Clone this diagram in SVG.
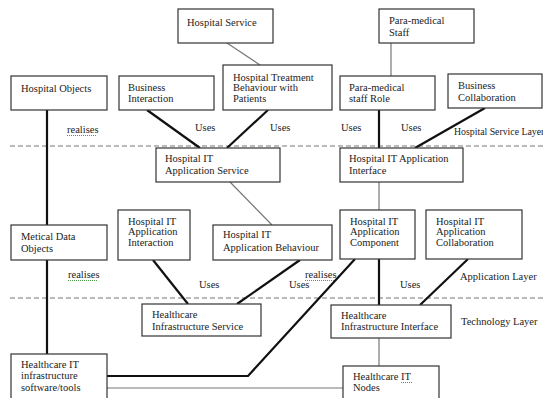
<svg xmlns="http://www.w3.org/2000/svg" width="543" height="398" viewBox="0 0 543 398">
<style>
text{font-family:"Liberation Serif","Times New Roman",serif;font-size:10.5px;fill:#222}
.box{fill:#fff;stroke:#333;stroke-width:1.2}
.thick{stroke:#111;stroke-width:2.2;fill:none}
.thin{stroke:#777;stroke-width:1.2;fill:none}
.dash{stroke:#777;stroke-width:1.2;stroke-dasharray:5,3;fill:none}
.sq{stroke:#4a9a4a;stroke-width:1;stroke-dasharray:1,1;fill:none}
</style>
<rect width="543" height="398" fill="#fff"/>
<g id="layers">
<line class="dash" x1="10" y1="146" x2="543" y2="146"/>
<line class="dash" x1="10" y1="298" x2="543" y2="298"/>
<text x="454" y="135" style="font-size:9.8px">Hospital Service Layer</text>
<text x="460" y="280">Application Layer</text>
<text x="461" y="324.5">Technology Layer</text>
</g>
<g id="connectors">
<line class="thin" x1="227" y1="43" x2="260" y2="65"/>
<line class="thick" x1="147" y1="110" x2="200" y2="148"/>
<line class="thick" x1="268" y1="110" x2="227" y2="148"/>
<line class="thin" x1="391" y1="43" x2="391" y2="76"/>
<line class="thick" x1="379" y1="110" x2="379" y2="148"/>
<line class="thick" x1="485" y1="108" x2="415" y2="148"/>
<line class="thick" x1="47" y1="110" x2="47" y2="225"/>
<line class="thin" x1="230" y1="182" x2="272" y2="225"/>
<line class="thin" x1="379" y1="182" x2="379" y2="210"/>
<line class="thick" x1="153" y1="260" x2="188" y2="304"/>
<line class="thick" x1="300" y1="260" x2="237" y2="304"/>
<line class="thick" x1="379" y1="259" x2="379" y2="305"/>
<line class="thick" x1="468" y1="259" x2="420" y2="305"/>
<polyline class="thick" points="355,259 248,376 107,376"/>
<line class="thick" x1="47" y1="260" x2="47" y2="354"/>
<line class="thin" x1="379" y1="338" x2="379" y2="366"/>
<line class="thin" x1="107" y1="388" x2="343" y2="388"/>
<text x="67" y="133">realises</text>
<line class="sq" x1="67" y1="135.5" x2="97" y2="135.5"/>
<text x="195" y="130.5">Uses</text>
<text x="270" y="130.5">Uses</text>
<text x="341" y="130.5">Uses</text>
<text x="401" y="130.5">Uses</text>
<text x="68" y="278">realises</text>
<line class="sq" x1="68" y1="280.5" x2="98" y2="280.5"/>
<text x="199" y="288">Uses</text>
<text x="289" y="288">Uses</text>
<text x="305" y="278">realises</text>
<line class="sq" x1="305" y1="280.5" x2="335" y2="280.5"/>
<text x="400" y="288">Uses</text>
</g>
<g id="hospital-service"><rect class="box" x="178" y="9" width="95" height="34"/><text x="187" y="26">Hospital Service</text></g>
<g id="para-medical-staff"><rect class="box" x="379" y="9" width="95" height="34"/><text x="389" y="23.5">Para-medical</text><text x="389" y="35.5">Staff</text></g>
<g id="hospital-objects"><rect class="box" x="11" y="76" width="96" height="34"/><text x="21" y="91.5">Hospital Objects</text></g>
<g id="business-interaction"><rect class="box" x="119" y="76" width="95" height="34"/><text x="128" y="90.5">Business</text><text x="128" y="101.5">Interaction</text></g>
<g id="treatment-behaviour"><rect class="box" x="223" y="65" width="109" height="45"/><text x="233" y="80.5">Hospital Treatment</text><text x="233" y="91">Behaviour with</text><text x="233" y="101.5">Patients</text></g>
<g id="para-medical-role"><rect class="box" x="340" y="76" width="95" height="34"/><text x="349" y="90.5">Para-medical</text><text x="349" y="101.5">staff Role</text></g>
<g id="business-collaboration"><rect class="box" x="448" y="74" width="94" height="34"/><text x="458" y="88.5">Business</text><text x="458" y="100.5">Collaboration</text></g>
<g id="app-service"><rect class="box" x="156" y="148" width="124" height="34"/><text x="165" y="161.5">Hospital IT</text><text x="165" y="173.5">Application Service</text></g>
<g id="app-interface"><rect class="box" x="340" y="148" width="123" height="34"/><text x="349" y="161.5">Hospital IT Application</text><text x="349" y="173.5">Interface</text></g>
<g id="medical-data-objects"><rect class="box" x="11" y="225" width="96" height="35"/><text x="21" y="239.5">Metical Data</text><text x="21" y="251.5">Objects</text></g>
<g id="app-interaction"><rect class="box" x="118" y="210" width="72" height="50"/><text x="128" y="224.5">Hospital IT</text><text x="128" y="235">Application</text><text x="128" y="245.5">Interaction</text></g>
<g id="app-behaviour"><rect class="box" x="213" y="225" width="119" height="35"/><text x="223" y="237.5">Hospital IT</text><text x="223" y="251">Application Behaviour</text></g>
<g id="app-component"><rect class="box" x="340" y="210" width="75" height="49"/><text x="350" y="224.5">Hospital IT</text><text x="350" y="235">Application</text><text x="350" y="245.5">Component</text></g>
<g id="app-collaboration"><rect class="box" x="426" y="210" width="96" height="49"/><text x="436" y="224.5">Hospital IT</text><text x="436" y="235">Application</text><text x="436" y="245.5">Collaboration</text></g>
<g id="infra-service"><rect class="box" x="142" y="304" width="119" height="32"/><text x="152" y="317.5">Healthcare</text><text x="152" y="329.5">Infrastructure Service</text></g>
<g id="infra-interface"><rect class="box" x="331" y="305" width="120" height="33"/><text x="341" y="319">Healthcare</text><text x="341" y="330">Infrastructure Interface</text></g>
<g id="healthcare-it-tools"><rect class="box" x="11" y="354" width="96" height="50"/><text x="21" y="367.5">Healthcare IT</text><text x="21" y="379">infrastructure</text><text x="21" y="390.5">software/tools</text></g>
<g id="healthcare-it-nodes"><rect class="box" x="343" y="366" width="96" height="38"/><text x="353" y="379.5">Healthcare IT</text><text x="353" y="390.5">Nodes</text><line class="sq" x1="401" y1="382.5" x2="412" y2="382.5"/></g>
</svg>
